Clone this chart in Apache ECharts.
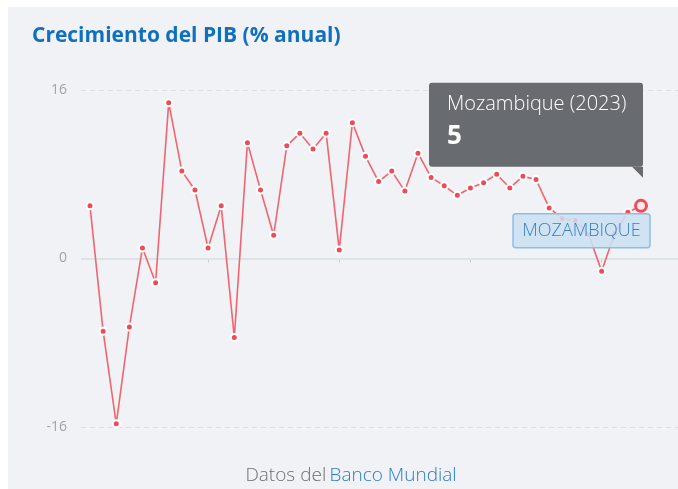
<!DOCTYPE html>
<html>
<head>
<meta charset="utf-8">
<script src="https://cdn.jsdelivr.net/npm/echarts@6/dist/echarts.min.js"></script>
<style>
html,body{margin:0;padding:0;background:#fff;}
#wrap{position:relative;width:678px;height:489px;background:#fff;}
#panel{position:absolute;left:8px;top:7px;width:670px;height:482px;background:#f0f2f6;}
#chart{position:absolute;left:0;top:0;width:678px;height:489px;}
</style>
</head>
<body>
<div id="wrap"><div id="panel"></div><div id="chart"></div></div>
<script>
// Data: Mozambique GDP growth (% annual), 1981-2023
const years = [1981,1982,1983,1984,1985,1986,1987,1988,1989,1990,
  1991,1992,1993,1994,1995,1996,1997,1998,1999,2000,
  2001,2002,2003,2004,2005,2006,2007,2008,2009,2010,
  2011,2012,2013,2014,2015,2016,2017,2018,2019,2020,
  2021,2022,2023];
const growth = [5.0,-6.9,-15.7,-6.5,1.0,-2.3,14.8,8.3,6.5,1.0,
  5.0,-7.5,11.0,6.5,2.2,10.7,11.9,10.4,11.9,0.8,
  12.9,9.7,7.3,8.3,6.4,10.0,7.7,6.9,6.0,6.7,
  7.2,8.0,6.7,7.8,7.5,4.8,3.8,3.6,2.3,-1.2,
  2.4,4.4,5.0];
const yTicks = [-16, 0, 16];
const xTickYears = [1990, 2000, 2010, 2020];
const countryName = 'Mozambique';
const countryLabel = 'MOZAMBIQUE';
const titleText = 'Crecimiento del PIB (% anual)';

const chart = echarts.init(document.getElementById('chart'), null, {renderer:'canvas'});
const n = years.length;
const lastYear = years[n-1], lastVal = growth[n-1];
const pxPerYear = (641 - 90) / (n - 1);

const seriesData = years.map((y, i) => {
  const item = { value: [y, growth[i]] };
  if (i === n - 1) {
    item.symbolSize = 11;
    item.itemStyle = { color: '#fde8ea', borderColor: '#ee4a57', borderWidth: 3 };
  }
  return item;
});

chart.setOption({
  backgroundColor: 'transparent',
  animation: false,
  title: {
    text: titleText, left: 27, top: 21,
    textStyle: { color: '#1170bd', fontSize: 21, fontWeight: 'bold', fontFamily: 'Open Sans' }
  },
  grid: { left: 81, right: 0, top: 90, bottom: 62, containLabel: false },
  xAxis: {
    type: 'value',
    min: years[0] - 9 / pxPerYear,
    max: lastYear + 37 / pxPerYear,
    offset: 5,
    axisLine: { show: false },
    axisTick: { show: true, length: 4, customValues: xTickYears, lineStyle: { color: '#c9ccd1', width: 1 } },
    axisLabel: { show: false },
    splitLine: { show: false }
  },
  yAxis: {
    type: 'value', min: yTicks[0], max: yTicks[2], interval: 16,
    axisLine: { show: false }, axisTick: { show: false },
    axisLabel: { color: '#a3a3a3', fontSize: 14, fontFamily: 'Open Sans', margin: 14 },
    splitLine: { show: true, lineStyle: { color: '#dcdfe4', type: [5, 4], width: 1 } }
  },
  series: [{
    type: 'line',
    data: seriesData,
    symbol: 'circle',
    symbolSize: 7,
    showAllSymbol: true,
    lineStyle: { color: '#f0656f', width: 1.6 },
    itemStyle: { color: '#ee4a57', borderColor: '#ffffff', borderWidth: 2 },
    markLine: {
      silent: true, symbol: 'none', label: { show: false },
      lineStyle: { color: '#dde4e9', type: 'solid', width: 2 },
      data: [{ yAxis: 0 }],
      z: 1
    },
    z: 5
  }]
});

const p = chart.convertToPixel({ gridIndex: 0 }, [lastYear, lastVal]);
const boxRight = p[0] + 2, boxBottom = p[1] - 39;
const boxW = 214, boxH = 84;
chart.setOption({
  graphic: [
    { type: 'rect', z: 100, shape: { x: boxRight - boxW, y: boxBottom - boxH, width: boxW, height: boxH, r: 3 },
      style: { fill: '#686b6f' } },
    { type: 'polygon', z: 100, shape: { points: [[boxRight - 11, boxBottom], [boxRight, boxBottom], [boxRight, boxBottom + 11]] },
      style: { fill: '#686b6f' } },
    { type: 'text', z: 101, x: boxRight - boxW + 18, y: boxBottom - boxH + 21,
      style: { text: countryName + ' (' + lastYear + ')', fill: '#ffffff', font: '300 20px "Open Sans"', textVerticalAlign: 'middle' } },
    { type: 'text', z: 101, x: boxRight - boxW + 18, y: boxBottom - boxH + 54,
      style: { text: String(lastVal), fill: '#ffffff', font: 'bold 26px "Open Sans"', textVerticalAlign: 'middle' } },
    { type: 'rect', z: 100, shape: { x: p[0] - 128, y: p[1] + 8, width: 137, height: 34, r: 3 },
      style: { fill: 'rgba(203,224,243,0.88)', stroke: '#8fbde2', lineWidth: 1.5 } },
    { type: 'text', z: 101, x: p[0] - 59.5, y: p[1] + 25.5,
      style: { text: countryLabel, fill: '#3a7fc1', font: '300 18px "Open Sans"', textAlign: 'center', textVerticalAlign: 'middle' } },
    { type: 'text', z: 101, x: 351, y: 476,
      style: { rich: { a: { fill: '#6f6f6f', fontSize: 19, fontFamily: 'Open Sans', fontWeight: 300 },
                       b: { fill: '#2a7dc4', fontSize: 19, fontFamily: 'Open Sans', fontWeight: 300 } },
               text: '{a|Datos del} {b|Banco Mundial}', textAlign: 'center', textVerticalAlign: 'middle' } }
  ]
});
</script>
</body>
</html>
